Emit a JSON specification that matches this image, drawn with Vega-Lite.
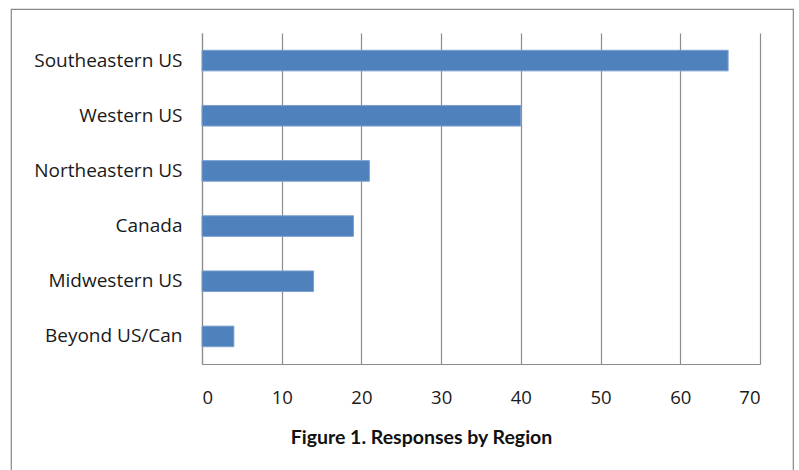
{
  "$schema": "https://vega.github.io/schema/vega-lite/v6.json",
  "width": 782,
  "height": 462,
  "autosize": {"type": "none"},
  "padding": {"left": 11, "top": 9, "right": 6, "bottom": -1},
  "background": "white",
  "config": {
    "font": "Open Sans",
    "view": {"stroke": "#878787", "strokeWidth": 1.2}
  },
  "data": {
    "values": [
      {"region": "Southeastern US", "responses": 66},
      {"region": "Western US", "responses": 40},
      {"region": "Northeastern US", "responses": 21},
      {"region": "Canada", "responses": 19},
      {"region": "Midwestern US", "responses": 14},
      {"region": "Beyond US/Can", "responses": 4}
    ]
  },
  "mark": {"type": "bar", "color": "#4F81BD", "stroke": "#7b9fcf", "strokeWidth": 1},
  "encoding": {
    "y": {
      "field": "region",
      "type": "nominal",
      "sort": null,
      "scale": {"range": [24, 355], "paddingInner": 0.627, "paddingOuter": 0.3135},
      "axis": {
        "orient": "left",
        "offset": -191,
        "title": null,
        "grid": false,
        "ticks": false,
        "domain": true,
        "domainColor": "#8c8c8c",
        "domainWidth": 1.2,
        "labelPadding": 20,
        "labelFontSize": 19,
        "labelColor": "#1a1a1a",
        "labelFont": "Open Sans"
      }
    },
    "x": {
      "field": "responses",
      "type": "quantitative",
      "scale": {"domain": [0, 70], "range": [191, 749], "nice": false},
      "axis": {
        "orient": "top",
        "offset": -355,
        "values": [0, 10, 20, 30, 40, 50, 60, 70],
        "grid": true,
        "gridColor": "#8c8c8c",
        "gridWidth": 1.2,
        "ticks": false,
        "domain": true,
        "domainColor": "#8c8c8c",
        "domainWidth": 1.2,
        "labelPadding": -43,
        "labelFontSize": 18.5,
        "labelColor": "#1a1a1a",
        "labelFont": "Open Sans",
        "title": "Figure 1. Responses by Region",
        "titleFont": "Lato",
        "titleFontWeight": "bold",
        "titleFontSize": 19.5,
        "titleColor": "#111111",
        "titleAlign": "center",
        "titleBaseline": "alphabetic",
        "titleAnchor": null,
        "titleX": 410,
        "titleY": 79
      }
    }
  }
}
